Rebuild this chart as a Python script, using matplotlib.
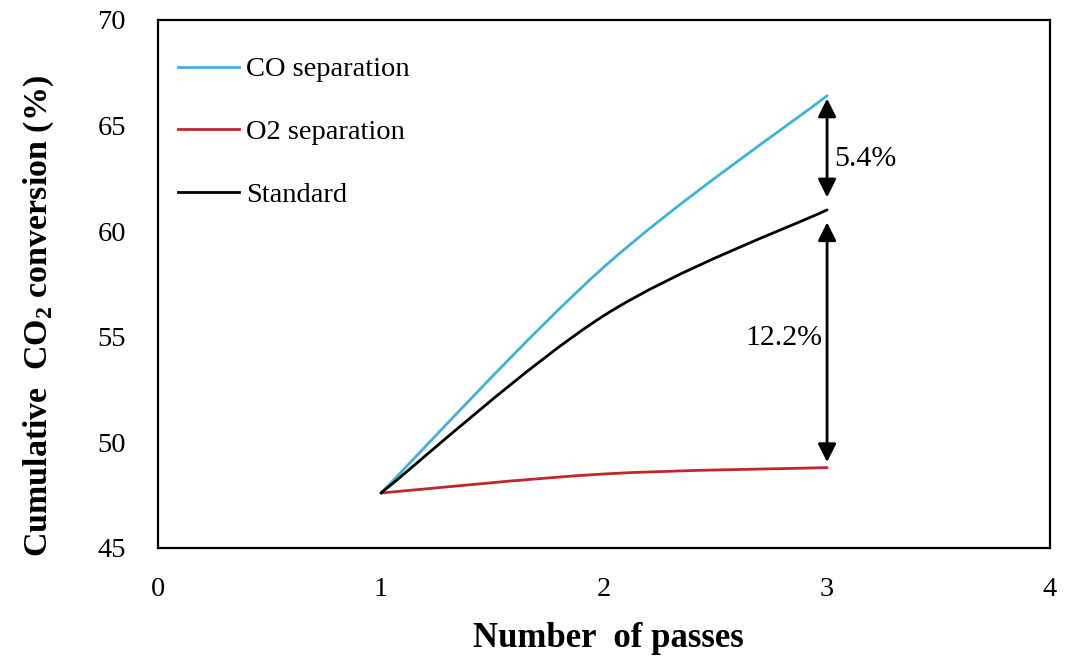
import matplotlib
matplotlib.use("Agg")
import matplotlib.pyplot as plt
from matplotlib.path import Path
from matplotlib.patches import PathPatch
from matplotlib.lines import Line2D

plt.rcParams['font.family'] = ['Liberation Serif', 'DejaVu Serif']
plt.rcParams['mathtext.fontset'] = 'custom'
plt.rcParams['mathtext.rm'] = 'Liberation Serif'
plt.rcParams['mathtext.bf'] = 'Liberation Serif:bold'

# ---- data ----
passes = [1, 2, 3]
co_sep = [47.6, 58.3, 66.4]
o2_sep = [47.6, 48.5, 48.8]
standard = [47.6, 56.0, 61.0]
series_names = ['CO separation', 'O2 separation', 'Standard']
series_colors = ['#41b1da', '#c0272d', '#000000']
x_ticks = [0, 1, 2, 3, 4]
y_ticks = [45, 50, 55, 60, 65, 70]
diff_labels = ['5.4%', '12.2%']


def smooth_path(xs, ys, t=1/6.0):
    pts = list(zip(xs, ys))
    n = len(pts)
    verts = [pts[0]]
    codes = [Path.MOVETO]
    for i in range(n - 1):
        p_prev = pts[i - 1] if i > 0 else pts[i]
        p0 = pts[i]
        p1 = pts[i + 1]
        p_next = pts[i + 2] if i + 2 < n else pts[i + 1]
        c1 = (p0[0] + (p1[0] - p_prev[0]) * t, p0[1] + (p1[1] - p_prev[1]) * t)
        c2 = (p1[0] - (p_next[0] - p0[0]) * t, p1[1] - (p_next[1] - p0[1]) * t)
        verts += [c1, c2, p1]
        codes += [Path.CURVE4] * 3
    return Path(verts, codes)


fig = plt.figure(figsize=(10.71, 6.57), dpi=100)
ax = fig.add_axes([0.1475, 0.166, 0.833, 0.804])

handles = []
for ys, name, col in zip([co_sep, o2_sep, standard], series_names, series_colors):
    patch = PathPatch(smooth_path(passes, ys), facecolor='none', edgecolor=col,
                      linewidth=2.0, capstyle='round', joinstyle='round')
    ax.add_patch(patch)
    handles.append(Line2D([], [], color=col, linewidth=2.0))

ax.set_xlim(0, 4)
ax.set_ylim(45, 70)
ax.set_xticks(x_ticks)
ax.set_yticks(y_ticks)
ax.tick_params(axis='both', length=0, labelsize=20.5)
ax.tick_params(axis='y', pad=23)
ax.tick_params(axis='x', pad=21)
for s in ax.spines.values():
    s.set_linewidth(1.6)
    s.set_color('black')

ax.set_xlabel('Number  of passes', fontsize=25, fontweight='bold')
ax.xaxis.set_label_coords(0.5045, -0.14)
ax.set_ylabel(r'Cumulative  CO$_\mathbf{2}$ conversion (%)', fontsize=24.5,
              fontweight='bold')
ax.yaxis.set_label_coords(-0.114, 0.44)

leg = ax.legend(handles, series_names, loc='upper left', frameon=False,
                fontsize=20.5, handlelength=2.15, handletextpad=0.25,
                labelspacing=1.3, borderaxespad=0.3,
                bbox_to_anchor=(0.0, 0.968))

# difference arrows at last pass
xl = passes[-1]
arrow_kw = dict(arrowstyle='<|-|>,head_length=1.1,head_width=0.55',
                color='black', lw=2.0)
ax.annotate('', xy=(xl, standard[-1]), xytext=(xl, co_sep[-1]),
            arrowprops=dict(arrow_kw, shrinkA=2, shrinkB=9))
ax.annotate('', xy=(xl, o2_sep[-1]), xytext=(xl, standard[-1]),
            arrowprops=dict(arrow_kw, shrinkA=9, shrinkB=4))
ax.text(xl + 0.03, (co_sep[-1] + standard[-1]) / 2 - 0.28, diff_labels[0],
        fontsize=21.5, ha='left', va='center')
ax.text(xl - 0.02, (standard[-1] + o2_sep[-1]) / 2 + 0.05, diff_labels[1],
        fontsize=21.5, ha='right', va='center')

fig.savefig('out.png', dpi=100)
